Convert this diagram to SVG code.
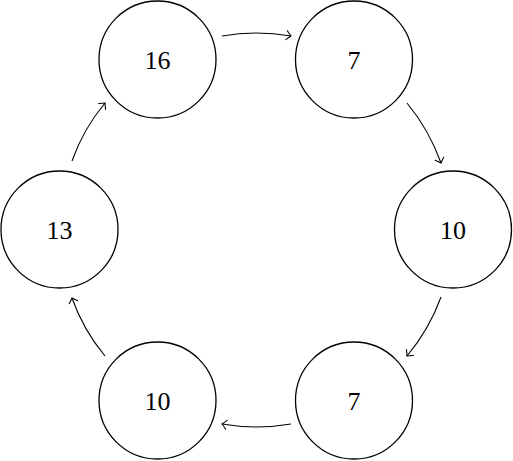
<svg xmlns="http://www.w3.org/2000/svg" width="513" height="461" viewBox="0 0 513 461">
<style>
.node circle{fill:#fff;stroke:#000;stroke-width:1.3}
.node text{font-family:"Liberation Serif","Times New Roman",serif;font-weight:normal;font-size:26px;text-anchor:middle;fill:#000}
.edge{fill:none;stroke:#000;stroke-width:1.1;marker-end:url(#to)}
</style>
<defs>
<marker id="to" markerUnits="userSpaceOnUse" markerWidth="14" markerHeight="14" refX="0" refY="0" viewBox="-7 -7 14 14" orient="auto" overflow="visible">
<path d="M-4.5,-4.5 Q-1.2,-1 0,0 Q-1.2,1 -4.5,4.5" fill="none" stroke="#000" stroke-width="1.1" stroke-linecap="round"/>
</marker>
</defs>
<g id="n1" class="node"><circle cx="157.5" cy="59.5" r="58.5"/><text x="157.5" y="69">16</text></g>
<g id="n2" class="node"><circle cx="354" cy="59.5" r="58.5"/><text x="354" y="69">7</text></g>
<g id="n3" class="node"><circle cx="453" cy="229.5" r="58.5"/><text x="453" y="239">10</text></g>
<g id="n4" class="node"><circle cx="354" cy="400.5" r="58.5"/><text x="354" y="410">7</text></g>
<g id="n5" class="node"><circle cx="157.5" cy="400.5" r="58.5"/><text x="157.5" y="410">10</text></g>
<g id="n6" class="node"><circle cx="59.5" cy="229.5" r="58.5"/><text x="59.5" y="239">13</text></g>
<g id="edges">
<path class="edge" d="M222,36 Q256.5,30 291,36"/>
<path class="edge" d="M407,103 Q429.2,130 441,163"/>
<path class="edge" d="M441,297 Q429.2,329.5 407,356"/>
<path class="edge" d="M291,424 Q256.5,430 222,424"/>
<path class="edge" d="M105,356 Q83.3,330 72,298"/>
<path class="edge" d="M72,161 Q83.3,129 105,103"/>
</g>
</svg>
